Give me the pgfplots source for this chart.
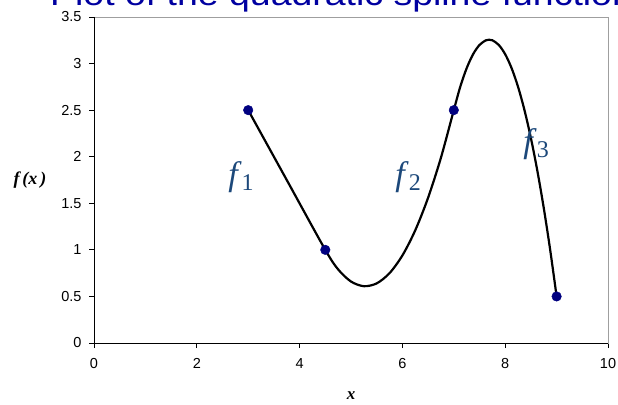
\documentclass[border=0pt]{standalone}
\usepackage{fontspec}
\setmainfont{Liberation Sans}
\newfontfamily\timesfont{Liberation Serif}
\usepackage{pgfplots}
\pgfplotsset{compat=1.18}
\definecolor{titleblue}{RGB}{0,0,160}
\definecolor{dotnavy}{RGB}{0,0,128}
\definecolor{labelblue}{RGB}{28,72,122}
\begin{document}
\begin{tikzpicture}[x=1pt,y=1pt]
\useasboundingbox (0,0) rectangle (618,404);
\node[anchor=base west, inner sep=0, text=titleblue, font=\fontsize{32}{38}\selectfont]
  at (50,398) {\scalebox{1.17}[1]{Plot of the quadratic spline function}};
\begin{axis}[
  at={(94pt,61pt)}, anchor=south west,
  scale only axis, width=514pt, height=326pt,
  xmin=0, xmax=10, ymin=0, ymax=3.5,
  xtick={0,2,4,6,8,10},
  ytick={0,0.5,1,1.5,2,2.5,3,3.5},
  xtick pos=left, ytick pos=left,
  tick align=outside, major tick length=5pt,
  tick style={black, line width=0.8pt},
  axis line style={draw=gray!75, line width=0.8pt},
  /pgf/number format/assume math mode=true,
  tick label style={font=\fontsize{14.5}{16}\selectfont},
  xticklabel style={yshift=-7pt},
  yticklabel style={xshift=-4pt},
  clip=false,
]
% frame: left and bottom axis lines in black
\draw[black, line width=0.9pt] (rel axis cs:0,1) -- (rel axis cs:0,0) -- (rel axis cs:1,0);

% quadratic spline: f1 on [3,4.5], f2 on [4.5,7], f3 on [7,9]
\addplot[black, line width=2.2pt, smooth, tension=0.5] coordinates {
  (3,2.5) (3.75,1.75) (4.5,1.0)
  (4.75,0.79) (5.0,0.66) (5.25,0.61) (5.5,0.64) (5.75,0.75) (6.0,0.94)
  (6.25,1.21) (6.5,1.56) (6.75,1.99) (7.0,2.5)
  (7.125,2.75) (7.25,2.95) (7.375,3.10) (7.5,3.20) (7.625,3.25) (7.6875,3.256)
  (7.75,3.25) (7.875,3.20) (8.0,3.10) (8.125,2.95) (8.25,2.75) (8.375,2.50)
  (8.5,2.20) (8.625,1.85) (8.75,1.45) (8.875,1.00) (9.0,0.5)
};
% data points
\addplot[only marks, mark=*, mark size=4.8pt, color=dotnavy] coordinates {
  (3,2.5) (4.5,1.0) (7,2.5) (9,0.5)
};

% segment labels
\node[anchor=base west, inner sep=0, text=labelblue] at (axis cs:2.61,1.69)
  {\timesfont\fontsize{34}{36}\selectfont\textit{f}\raisebox{-5pt}{\fontsize{24}{26}\selectfont 1}};
\node[anchor=base west, inner sep=0, text=labelblue] at (axis cs:5.86,1.69)
  {\timesfont\fontsize{34}{36}\selectfont\textit{f}\raisebox{-5pt}{\fontsize{24}{26}\selectfont 2}};
\node[anchor=base west, inner sep=0, text=labelblue] at (axis cs:8.35,2.04)
  {\timesfont\fontsize{34}{36}\selectfont\textit{f}\raisebox{-5pt}{\fontsize{24}{26}\selectfont 3}};

% axis labels
\node[anchor=center, inner sep=0] at (axis cs:0,1.75) [xshift=-64pt]
  {\timesfont\fontsize{18}{20}\selectfont\bfseries\itshape f\,(x\,)};
\node[anchor=center, inner sep=0] at (rel axis cs:0.5,0) [yshift=-53pt]
  {\timesfont\fontsize{17}{19}\selectfont\bfseries\itshape x};
\end{axis}
\end{tikzpicture}
\end{document}
